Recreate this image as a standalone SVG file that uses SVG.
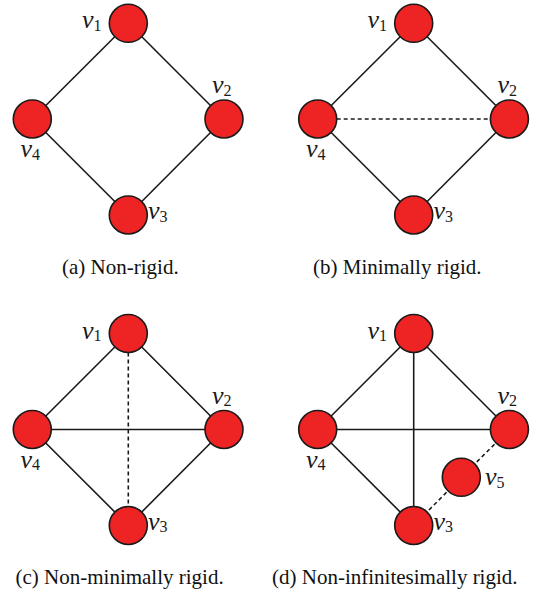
<svg xmlns="http://www.w3.org/2000/svg" width="538" height="593" viewBox="0 0 538 593">
<style>
.node{fill:#ee2424;stroke:#1a1a1a;stroke-width:1.6}
.e{stroke:#1a1a1a;stroke-width:1.6;fill:none}
.d{stroke:#1a1a1a;stroke-width:1.6;fill:none;stroke-dasharray:4 3}
.lab{font-family:"Liberation Serif",serif;font-style:italic;font-size:26px;fill:#1a1a1a}
.sub{font-style:normal;font-size:16px}
.cap{font-family:"Liberation Serif",serif;font-size:21px;fill:#111}
</style>
<rect width="538" height="593" fill="#fff"/>
<g id="connectors">
<!-- a -->
<line class="e" x1="128.3" y1="23.3" x2="224" y2="119"/>
<line class="e" x1="128.3" y1="23.3" x2="32.3" y2="119"/>
<line class="e" x1="32.3" y1="119" x2="128.3" y2="215"/>
<line class="e" x1="224" y1="119" x2="128.3" y2="215"/>
<!-- b -->
<line class="e" x1="413.7" y1="23.3" x2="509.4" y2="119"/>
<line class="e" x1="413.7" y1="23.3" x2="317.7" y2="119"/>
<line class="e" x1="317.7" y1="119" x2="413.7" y2="215"/>
<line class="e" x1="509.4" y1="119" x2="413.7" y2="215"/>
<line class="d" x1="336.7" y1="119" x2="490.4" y2="119"/>
<!-- c -->
<line class="e" x1="128.3" y1="333.5" x2="224" y2="429.5"/>
<line class="e" x1="128.3" y1="333.5" x2="32.3" y2="429.5"/>
<line class="e" x1="32.3" y1="429.5" x2="128.3" y2="525.5"/>
<line class="e" x1="224" y1="429.5" x2="128.3" y2="525.5"/>
<line class="e" x1="32.3" y1="429.5" x2="224" y2="429.5"/>
<line class="d" x1="128.3" y1="352.5" x2="128.3" y2="506.5"/>
<!-- d -->
<line class="e" x1="413.7" y1="333.5" x2="509.4" y2="429.5"/>
<line class="e" x1="413.7" y1="333.5" x2="317.7" y2="429.5"/>
<line class="e" x1="317.7" y1="429.5" x2="413.7" y2="525.5"/>
<line class="e" x1="317.7" y1="429.5" x2="509.4" y2="429.5"/>
<line class="e" x1="413.7" y1="333.5" x2="413.7" y2="525.5"/>
<line class="d" x1="509.4" y1="429.5" x2="461.3" y2="477.3"/>
<line class="d" x1="461.3" y1="477.3" x2="413.7" y2="525.5"/>
</g>
<!-- panel a -->
<g id="a-v1"><circle class="node" cx="128.3" cy="23.3" r="19"/><text class="lab" x="82" y="28">v<tspan class="sub" dy="2.5">1</tspan></text></g>
<g id="a-v2"><circle class="node" cx="224" cy="119" r="19"/><text class="lab" x="212" y="93">v<tspan class="sub" dy="2.5">2</tspan></text></g>
<g id="a-v3"><circle class="node" cx="128.3" cy="215" r="19"/><text class="lab" x="148" y="219">v<tspan class="sub" dy="2.5">3</tspan></text></g>
<g id="a-v4"><circle class="node" cx="32.3" cy="119" r="19"/><text class="lab" x="20.5" y="157">v<tspan class="sub" dy="2.5">4</tspan></text></g>
<!-- panel b -->
<g id="b-v1"><circle class="node" cx="413.7" cy="23.3" r="19"/><text class="lab" x="367.5" y="28">v<tspan class="sub" dy="2.5">1</tspan></text></g>
<g id="b-v2"><circle class="node" cx="509.4" cy="119" r="19"/><text class="lab" x="497.5" y="93">v<tspan class="sub" dy="2.5">2</tspan></text></g>
<g id="b-v3"><circle class="node" cx="413.7" cy="215" r="19"/><text class="lab" x="433.5" y="219">v<tspan class="sub" dy="2.5">3</tspan></text></g>
<g id="b-v4"><circle class="node" cx="317.7" cy="119" r="19"/><text class="lab" x="306" y="157">v<tspan class="sub" dy="2.5">4</tspan></text></g>
<!-- panel c -->
<g id="c-v1"><circle class="node" cx="128.3" cy="333.5" r="19"/><text class="lab" x="82" y="338.5">v<tspan class="sub" dy="2.5">1</tspan></text></g>
<g id="c-v2"><circle class="node" cx="224" cy="429.5" r="19"/><text class="lab" x="212" y="403.5">v<tspan class="sub" dy="2.5">2</tspan></text></g>
<g id="c-v3"><circle class="node" cx="128.3" cy="525.5" r="19"/><text class="lab" x="148" y="529.5">v<tspan class="sub" dy="2.5">3</tspan></text></g>
<g id="c-v4"><circle class="node" cx="32.3" cy="429.5" r="19"/><text class="lab" x="20.5" y="467.5">v<tspan class="sub" dy="2.5">4</tspan></text></g>
<!-- panel d -->
<g id="d-v1"><circle class="node" cx="413.7" cy="333.5" r="19"/><text class="lab" x="367.5" y="338.5">v<tspan class="sub" dy="2.5">1</tspan></text></g>
<g id="d-v2"><circle class="node" cx="509.4" cy="429.5" r="19"/><text class="lab" x="497.5" y="403.5">v<tspan class="sub" dy="2.5">2</tspan></text></g>
<g id="d-v3"><circle class="node" cx="413.7" cy="525.5" r="19"/><text class="lab" x="433.5" y="529.5">v<tspan class="sub" dy="2.5">3</tspan></text></g>
<g id="d-v4"><circle class="node" cx="317.7" cy="429.5" r="19"/><text class="lab" x="306" y="467.5">v<tspan class="sub" dy="2.5">4</tspan></text></g>
<g id="d-v5"><circle class="node" cx="461.3" cy="477.3" r="19"/><text class="lab" x="485" y="485">v<tspan class="sub" dy="2.5">5</tspan></text></g>
<!-- captions -->
<text class="cap" x="62" y="274">(a) Non-rigid.</text>
<text class="cap" x="313" y="274">(b) Minimally rigid.</text>
<text class="cap" x="15.5" y="584">(c) Non-minimally rigid.</text>
<text class="cap" x="272" y="584">(d) Non-infinitesimally rigid.</text>
</svg>
